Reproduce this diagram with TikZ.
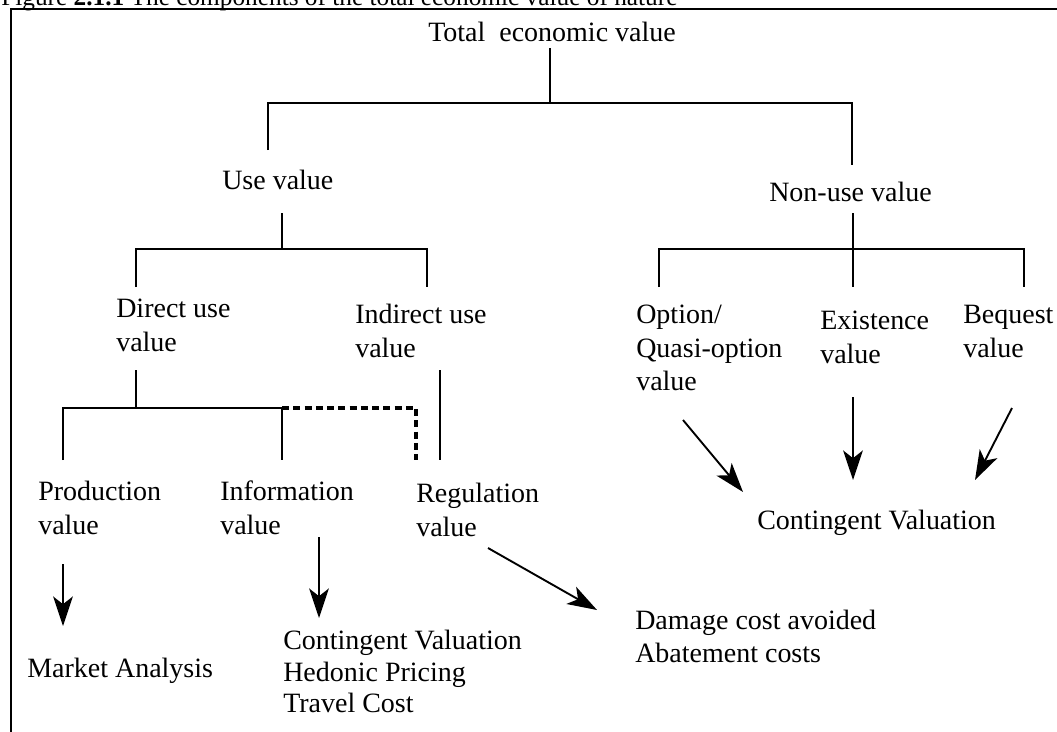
\documentclass[tikz,border=0pt]{standalone}
\usepackage{fontspec}
\setmainfont{Liberation Serif}
\usetikzlibrary{calc,arrows.meta}
\newcommand{\lblsize}{\fontsize{19.9pt}{24pt}\selectfont}
\newcommand{\capsize}{\fontsize{18pt}{21pt}\selectfont}
\newcommand{\lnskip}{34}
\newcommand{\prlbl}[4]{\node[lbl] (#1) at (#2) {#3}; \node[lbl] (#1v) at ($(#2)+(0,\lnskip)$) {#4};}
\tikzset{
	lbl/.style={anchor=base west,inner sep=0pt,font=\lblsize},
	tree/.style={line width=1.35pt},
	dtree/.style={line width=2.4pt,dash pattern=on 5pt off 3pt},
	arr/.style={line width=1.35pt,-{Stealth[length=21pt,width=14pt,inset=5.5pt]}}
}

\begin{document}
\begin{tikzpicture}[x=0.025cm,y=-0.025cm]
		\useasboundingbox (0,0) rectangle (1057,731);
		
		\draw[line width=1.9pt] (11,760) -- (11,9) -- (1080,9);
		\node[anchor=base west,inner sep=0pt,font=\capsize] (cap) at (1,5.5) {Figure \textbf{2.1.1} The components of the total economic value of nature};
		
		\node[lbl] (tev) at (428,41) {Total~ economic value};
		\node[lbl] (use) at (222,189) {Use value};
		\node[lbl] (non) at (769,201) {Non-use value};
		
		\prlbl{dir}{116,317}{Direct use}{value}
		\prlbl{ind}{355,323}{Indirect use}{value}
		\prlbl{opt}{636,323}{Option/}{Quasi-option}
		\node[lbl] (optvv) at (636,390) {value};
		\prlbl{exi}{820,329}{Existence}{value}
		\prlbl{beq}{963,323}{Bequest}{value}
		
		\prlbl{prod}{38,500}{Production}{value}
		\prlbl{inf}{220,500}{Information}{value}
		\prlbl{reg}{416,502}{Regulation}{value}
		
		\node[lbl] (cvn) at (757,529) {Contingent Valuation};
		\node[lbl] (mkt) at (27,677) {Market Analysis};
		\node[lbl] (cv) at (283,649) {Contingent Valuation};
		\node[lbl] (hed) at (283,681) {Hedonic Pricing};
		\node[lbl] (trav) at (283,712) {Travel Cost};
		\node[lbl] (dam) at (635,629) {Damage cost avoided};
		\node[lbl] (aba) at (635,662) {Abatement costs};
		
		% tree
		\coordinate (tevtop) at (550,48);
		\coordinate (tevj) at (550,103);
		\coordinate (usetop) at (268,150);
		\coordinate (nontop) at (852,165);
		\draw[tree] (tevtop) -- (tevj);
		\draw[tree] (usetop) |- (tevj) -| (nontop);
		
		\coordinate (usebot) at (282,213);
		\coordinate (usej) at (282,249);
		\coordinate (dirtop) at (136,287);
		\coordinate (indtop) at (427,287);
		\draw[tree] (usebot) -- (usej);
		\draw[tree] (dirtop) |- (usej) -| (indtop);
		
		\coordinate (nonbot) at (853,213);
		\coordinate (nonj) at (853,249);
		\coordinate (opttop) at (659,287);
		\coordinate (exitop) at (853,287);
		\coordinate (beqtop) at (1024,287);
		\draw[tree] (nonbot) -- (exitop);
		\draw[tree] (opttop) |- (nonj) -| (beqtop);
		
		\coordinate (dirbot) at (136,370);
		\coordinate (dirj) at (136,408);
		\coordinate (prodtop) at (63,460);
		\coordinate (inftop) at (282,460);
		\coordinate (regtop) at (416,460);
		\coordinate (indbot) at (440,370);
		\coordinate (regtopb) at (440,460);
		\draw[tree] (dirbot) -- (dirj);
		\draw[tree] (prodtop) |- (dirj) -| (inftop);
		\draw[dtree] (inftop |- dirj) -| (regtop);
		\draw[tree] (indbot) -- (regtopb);
		
		% arrows
		\coordinate (prodA) at (63,564);
		\coordinate (prodB) at (63,626);
		\coordinate (infA) at (319,537);
		\coordinate (infB) at (319,618);
		\coordinate (regA) at (488,548);
		\coordinate (regB) at (597,610);
		\coordinate (optA) at (683,420);
		\coordinate (optB) at (743,492);
		\coordinate (exiA) at (853,397);
		\coordinate (exiB) at (853,480);
		\coordinate (beqA) at (1012,408);
		\coordinate (beqB) at (975,480);
		\draw[arr] (prodA) -- (prodB);
		\draw[arr] (infA) -- (infB);
		\draw[arr] (regA) -- (regB);
		\draw[arr] (optA) -- (optB);
		\draw[arr] (exiA) -- (exiB);
		\draw[arr] (beqA) -- (beqB);
		
	\end{tikzpicture}
\end{document}
